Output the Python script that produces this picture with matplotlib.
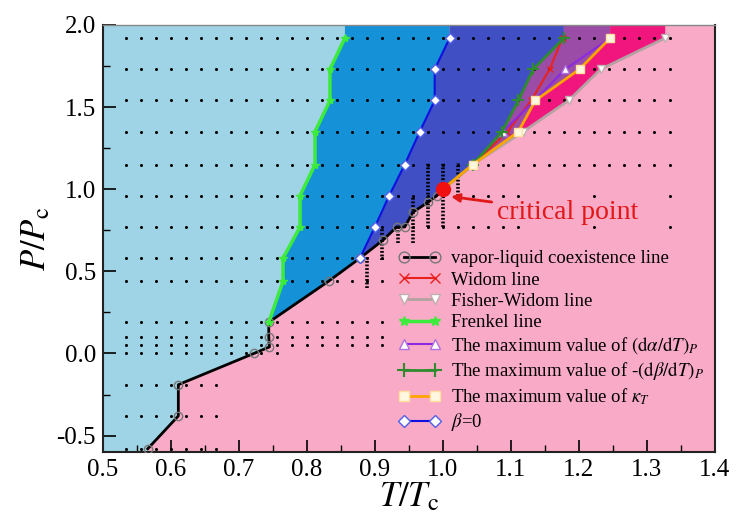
import numpy as np
import matplotlib.pyplot as plt
from matplotlib.ticker import MultipleLocator

plt.rcParams['font.family'] = ['Liberation Serif', 'DejaVu Serif']
plt.rcParams['mathtext.fontset'] = 'stix'
plt.rcParams['axes.unicode_minus'] = False

# vapor-liquid coexistence line
coex_T = [0.566, 0.611, 0.611, 0.722, 0.745, 0.744, 0.744, 0.832, 0.878, 0.912, 0.932, 0.944, 0.956, 0.978, 0.991, 1.000]
coex_P = [-0.58, -0.38, -0.19, 0.00, 0.04, 0.10, 0.19, 0.44, 0.58, 0.69, 0.77, 0.77, 0.86, 0.92, 0.96, 1.00]

# Frenkel line
frenkel_T = [0.744, 0.765, 0.765, 0.790, 0.790, 0.812, 0.812, 0.834, 0.834, 0.856]
frenkel_P = [0.19, 0.44, 0.58, 0.77, 0.96, 1.15, 1.35, 1.54, 1.73, 1.92]

# beta = 0 line
beta0_T = [0.878, 0.900, 0.921, 0.944, 0.966, 0.988, 0.988, 1.010]
beta0_P = [0.58, 0.77, 0.96, 1.15, 1.35, 1.54, 1.73, 1.92]

# supercritical lines, all starting at the critical point
sc_P = [1.00, 1.15, 1.35, 1.54, 1.73, 1.92]
widom_T = [1.000, 1.044, 1.095, 1.130, 1.157, 1.176]
dbeta_T = [1.000, 1.044, 1.087, 1.111, 1.133, 1.178]
dalpha_T = [1.000, 1.044, 1.088, 1.135, 1.180, 1.246]
kappa_T = [1.000, 1.044, 1.111, 1.136, 1.201, 1.246]
fisher_T = [1.000, 1.044, 1.118, 1.185, 1.232, 1.327]

crit_T, crit_P = 1.0, 1.0

# simulated state points
grid_T = [0.534, 0.556, 0.578, 0.600, 0.622, 0.645, 0.667, 0.689, 0.711, 0.733,
          0.756, 0.778, 0.800, 0.822, 0.845, 0.867, 0.889, 0.911, 0.934, 0.956,
          0.978, 1.000, 1.022, 1.045, 1.067, 1.089, 1.111, 1.134, 1.156, 1.178,
          1.200, 1.222, 1.245, 1.267, 1.289, 1.311, 1.334]
row_P = [1.92, 1.73, 1.54, 1.35, 1.15, 0.96, 0.77, 0.58, 0.44, 0.19, 0.10, 0.05, 0.00, -0.19, -0.38, -0.58]
row_last = [36, 36, 36, 36, 36, 26, 26, 17, 17, 17, 17, 17, 10, 6, 6, 6]
row_extra = [[], [], [], [], [], [31, 36], [31, 36], [], [], [], [], [], [], [], [], []]

# dense columns near the critical point
dense_T = [0.889, 0.911, 0.934, 0.956, 0.978, 1.000, 1.022]
dense_lo = [0.40, 0.57, 0.67, 0.67, 0.77, 0.77, 0.96]
dense_hi = [0.59, 0.77, 0.77, 0.96, 1.16, 1.16, 1.16]

xlim = (0.5, 1.4)
ylim = (-0.6, 2.0)

c_pink = '#F9AAC6'
c_light = '#9ED4E6'
c_mid = '#1591D8'
c_dark = '#4050C4'
c_purple = '#9B4CA6'
c_magenta = '#F0167E'

fig = plt.figure(figsize=(7.4, 5.19), dpi=100)
ax = fig.add_axes([0.139, 0.129, 0.827, 0.823])
ax.set_facecolor(c_pink)
ax.set_xlim(*xlim)
ax.set_ylim(*ylim)

ymin, ymax = ylim
xmin = xlim[0]

# regions
i_fr = coex_T.index(frenkel_T[0])
i_b0 = coex_P.index(beta0_P[0])

light = ([(xmin, ymax), (frenkel_T[-1], ymax)]
         + list(zip(frenkel_T[::-1], frenkel_P[::-1]))
         + list(zip(coex_T[:i_fr + 1][::-1], coex_P[:i_fr + 1][::-1]))
         + [(coex_T[0], ymin), (xmin, ymin)])
mid = (list(zip(frenkel_T, frenkel_P)) + [(frenkel_T[-1], ymax), (beta0_T[-1], ymax)]
       + list(zip(beta0_T[::-1], beta0_P[::-1]))
       + list(zip(coex_T[i_fr:i_b0 + 1][::-1], coex_P[i_fr:i_b0 + 1][::-1])))
dark = (list(zip(beta0_T, beta0_P)) + [(beta0_T[-1], ymax), (dbeta_T[-1], ymax)]
        + list(zip(dbeta_T[::-1], sc_P[::-1]))
        + list(zip(coex_T[i_b0:][::-1], coex_P[i_b0:][::-1])))
purple = (list(zip(dbeta_T, sc_P)) + [(dbeta_T[-1], ymax), (kappa_T[-1], ymax)]
          + list(zip(kappa_T[::-1], sc_P[::-1])))
magenta = (list(zip(kappa_T, sc_P)) + [(kappa_T[-1], ymax), (fisher_T[-1], ymax)]
           + list(zip(fisher_T[::-1], sc_P[::-1])))

for poly, col in [(light, c_light), (mid, c_mid), (dark, c_dark), (purple, c_purple), (magenta, c_magenta)]:
    xs, ys = zip(*poly)
    ax.fill(xs, ys, color=col, lw=0, zorder=1)

# state points
for p, last, extra in zip(row_P, row_last, row_extra):
    idx = list(range(last + 1)) + extra
    ax.plot([grid_T[i] for i in idx], [p] * len(idx), 'o', color='black', ms=2.2, mew=0, zorder=2)
ax.vlines(dense_T, dense_lo, dense_hi, colors='black', lw=2.6, linestyles=(0, (0.5, 0.5)), zorder=2)

# lines
l_coex, = ax.plot(coex_T, coex_P, '-o', color='black', lw=2, ms=6, mfc='none', mec='#777777', mew=1,
                  label='vapor-liquid coexistence line', zorder=4)
l_widom, = ax.plot(widom_T, sc_P, '-x', color='#E8231E', lw=1.5, ms=5, label='Widom line', zorder=4)
l_fisher, = ax.plot(fisher_T, sc_P, '-v', color='#B4A2A2', lw=2, ms=6, mfc='white', mec='#C0B0B0',
                    label='Fisher-Widom line', zorder=4)
l_fr, = ax.plot(frenkel_T, frenkel_P, '-*', color='#3CEB3C', lw=2.5, ms=6, label='Frenkel line', zorder=4)
l_da, = ax.plot(dalpha_T, sc_P, '-^', color='#8A2BE2', lw=1.5, ms=6, mfc='white', mec='#B070E0',
                label=r'The maximum value of $(\mathrm{d}\alpha/\mathrm{d}T)_P$', zorder=4)
l_db, = ax.plot(dbeta_T, sc_P, '-+', color='#2E8B2E', lw=2, ms=8, mew=1.5,
                label=r'The maximum value of -$(\mathrm{d}\beta/\mathrm{d}T)_P$', zorder=4)
l_k, = ax.plot(kappa_T, sc_P, '-s', color='#FFA500', lw=2, ms=5.5, mfc='#FFF8E0', mec='#FFE0A0',
               label=r'The maximum value of $\kappa_T$', zorder=4)
l_b0, = ax.plot(beta0_T, beta0_P, '-D', color='#1010E0', lw=1.5, ms=5, mfc='white', mec='#5060E8',
                label=r'$\beta$=0', zorder=4)

ax.plot(crit_T, crit_P, 'o', color='#F01010', ms=10, zorder=6)
ax.annotate('critical point', xy=(1.012, 0.955), xytext=(1.08, 0.86), color='#E01818', fontsize=20,
            va='center', ha='left',
            arrowprops=dict(arrowstyle='-|>', color='#E01818', lw=2, mutation_scale=12, shrinkA=2, shrinkB=0),
            zorder=6)

ax.legend(handles=[l_coex, l_widom, l_fisher, l_fr, l_da, l_db, l_k, l_b0],
          loc='upper left', bbox_to_anchor=(0.526, 0.536), bbox_transform=fig.transFigure,
          frameon=False, fontsize=13.5, handlelength=2.25, numpoints=2, labelspacing=0.22,
          borderpad=0, handletextpad=0.55, markerscale=1.3)

ax.xaxis.set_major_locator(MultipleLocator(0.1))
ax.xaxis.set_minor_locator(MultipleLocator(0.05))
ax.yaxis.set_major_locator(MultipleLocator(0.5))
ax.yaxis.set_minor_locator(MultipleLocator(0.25))
ax.tick_params(which='both', direction='in', top=False, right=False)
ax.tick_params(which='major', length=9, width=1.2, labelsize=18, pad=5)
ax.tick_params(which='minor', length=5, width=1)
ax.set_xticks(np.arange(0.5, 1.41, 0.1))
ax.set_xticklabels(['%.1f' % v for v in np.arange(0.5, 1.41, 0.1)])
for s in ax.spines.values():
    s.set_linewidth(1.5)
    s.set_color('#222222')
ax.spines['top'].set_color('#888888')
ax.spines['top'].set_linewidth(1)

ax.set_xlabel(r'$T/T_{\rm c}$', fontsize=25, labelpad=0)
ax.set_ylabel(r'$P/P_{\rm c}$', fontsize=25, labelpad=2)

fig.savefig('out.png', dpi=100)
